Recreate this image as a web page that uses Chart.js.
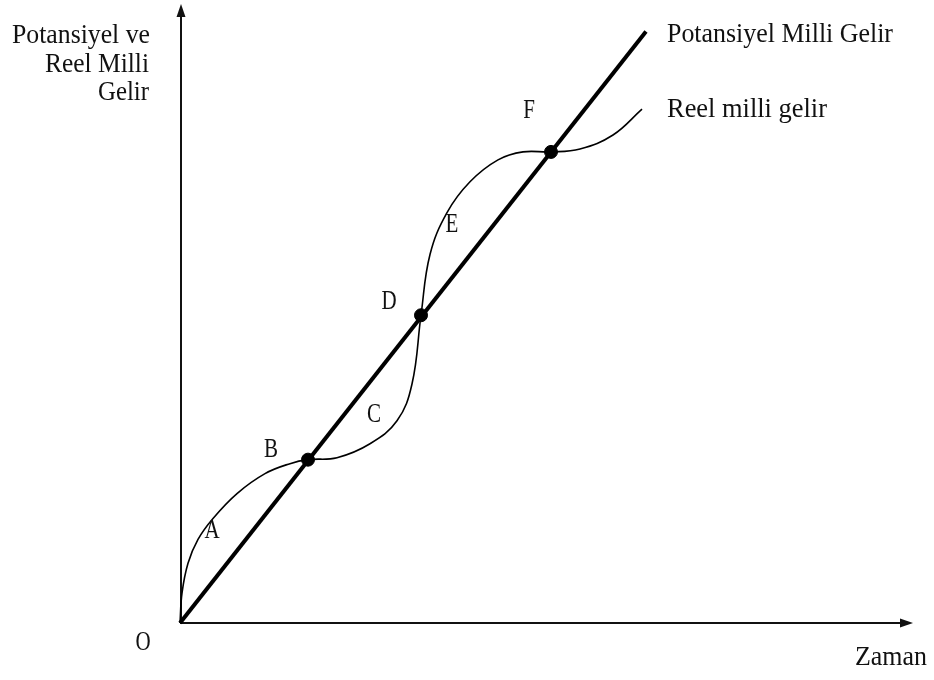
<!DOCTYPE html>
<html>
<head>
<meta charset="utf-8">
<script src="https://cdn.jsdelivr.net/npm/chart.js@4"></script>
<style>
  html, body { margin: 0; padding: 0; background: #fff; }
  #wrap { width: 934px; height: 680px; }
</style>
</head>
<body>
<div id="wrap"><canvas id="c" width="934" height="680"></canvas></div>
<script>
// Potansiyel milli gelir (straight line)
const potX = [0, 466];
const potY = [0, 594];

// Reel milli gelir (wavy curve)
const realX = [0, 2, 8, 18, 33, 57, 85, 110, 128, 157, 190, 217, 232, 241, 250, 267, 290, 318, 343, 371, 400, 433, 462];
const realY = [0, 30, 60, 84, 105, 130, 150, 160, 164, 166, 180, 203, 240, 309, 370, 412, 443, 465, 473, 473, 476, 490, 516];

// intersection dots B, D, F
const dotX = [128, 241, 371];
const dotY = [164, 309, 473];

// region letters
const letters = ['A', 'B', 'C', 'D', 'E', 'F', 'O'];
const letterX = [32, 91, 194, 209, 272, 349, -37];
const letterY = [93, 174, 209, 323, 400, 514, -20];

const yTitle = ['Potansiyel ve', 'Reel Milli', 'Gelir'];
const xTitle = 'Zaman';
const potLabel = 'Potansiyel Milli Gelir';
const realLabel = 'Reel milli gelir';

const pts = (xs, ys) => xs.map((x, i) => ({x, y: ys[i]}));
const SERIF = '"Liberation Serif", "DejaVu Serif", serif';

// draw text squeezed to a given width (the scan uses a narrow serif)
function fitText(ctx, text, x, y, w, size, align) {
  ctx.save();
  ctx.font = size + 'px ' + SERIF;
  const nat = ctx.measureText(text).width;
  const s = w / nat;
  let left = x;
  if (align === 'right') left = x - w;
  if (align === 'center') left = x - w / 2;
  ctx.translate(left, y);
  ctx.scale(s, 1);
  ctx.textAlign = 'left';
  ctx.textBaseline = 'alphabetic';
  ctx.fillText(text, 0, 0);
  ctx.restore();
}

function condensed(ctx, text, x, y, size, sx) {
  ctx.save();
  ctx.font = size + 'px ' + SERIF;
  ctx.translate(x, y);
  ctx.scale(sx, 1);
  ctx.textAlign = 'center';
  ctx.textBaseline = 'middle';
  ctx.fillText(text, 0, 0);
  ctx.restore();
}

const decor = {
  id: 'decor',
  beforeDatasetsDraw(chart) {
    const {ctx, scales: {x, y}} = chart;
    const ox = x.getPixelForValue(0), oy = y.getPixelForValue(0);
    ctx.save();
    ctx.strokeStyle = '#111';
    ctx.fillStyle = '#111';
    ctx.lineWidth = 2;
    // y axis
    ctx.beginPath();
    ctx.moveTo(ox + 1, oy);
    ctx.lineTo(ox + 1, 12);
    ctx.stroke();
    ctx.beginPath();
    ctx.moveTo(ox + 1, 4);
    ctx.lineTo(ox - 3.5, 17);
    ctx.lineTo(ox + 5.5, 17);
    ctx.closePath();
    ctx.fill();
    // x axis
    ctx.beginPath();
    ctx.moveTo(ox, oy);
    ctx.lineTo(905, oy);
    ctx.stroke();
    ctx.beginPath();
    ctx.moveTo(913, oy);
    ctx.lineTo(900, oy - 4.5);
    ctx.lineTo(900, oy + 4.5);
    ctx.closePath();
    ctx.fill();
    ctx.restore();
  },
  afterDatasetsDraw(chart) {
    const {ctx, scales: {x, y}} = chart;
    ctx.save();
    ctx.fillStyle = '#111';
    fitText(ctx, yTitle[0], 150, 43, 138, 28, 'right');
    fitText(ctx, yTitle[1], 149, 72, 104, 28, 'right');
    fitText(ctx, yTitle[2], 149, 100, 51, 28, 'right');
    fitText(ctx, potLabel, 667, 42, 226, 28, 'left');
    fitText(ctx, realLabel, 667, 117, 160, 28, 'left');
    fitText(ctx, xTitle, 855, 665, 72, 28, 'left');
    letters.forEach((t, i) => {
      condensed(ctx, t, x.getPixelForValue(letterX[i]), y.getPixelForValue(letterY[i]), 28, 0.75);
    });
    ctx.restore();
  }
};

new Chart(document.getElementById('c'), {
  type: 'scatter',
  data: {
    datasets: [
      {
        label: potLabel,
        data: pts(potX, potY),
        showLine: true,
        borderColor: '#000',
        borderWidth: 4,
        pointRadius: 0,
        clip: false
      },
      {
        label: realLabel,
        data: pts(realX, realY),
        showLine: true,
        borderColor: '#000',
        borderWidth: 1.6,
        pointRadius: 0,
        tension: 0.4,
        clip: false
      },
      {
        label: 'dots',
        data: pts(dotX, dotY),
        showLine: false,
        backgroundColor: '#000',
        borderColor: '#000',
        pointRadius: 6.5,
        clip: false
      }
    ]
  },
  options: {
    responsive: false,
    animation: false,
    layout: { padding: { left: 180, right: 22, top: 5, bottom: 57 } },
    scales: {
      x: { type: 'linear', min: 0, max: 732, display: false },
      y: { type: 'linear', min: 0, max: 618, display: false }
    },
    plugins: {
      legend: { display: false },
      tooltip: { enabled: false }
    }
  },
  plugins: [decor]
});
</script>
</body>
</html>
